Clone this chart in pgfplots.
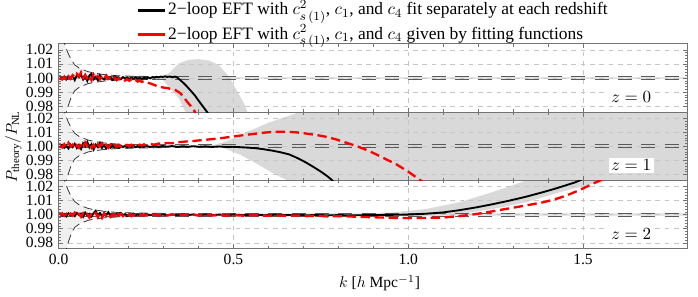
\documentclass[border=0pt]{standalone}
\usepackage{fontspec}
\setmainfont{Liberation Serif}
\usepackage{pgfplots}
\pgfplotsset{compat=1.18}
\usepgfplotslibrary{groupplots}

\newcommand{\funnelbg}{%
  \addplot[draw=none, fill=gray!12, on layer=axis background] coordinates {
    (0,1.0243) (0.017,1.0243) (0.021,1.0215) (0.027,1.0176) (0.036,1.0129)
    (0.046,1.0093) (0.06,1.0068) (0.084,1.0045) (0.1,1.0036) (0.13,1.0024) (0.17,1.0016) (0.22,1.0012) (0.3,1.001)
    (0.3,0.999) (0.22,0.9988) (0.17,0.9985) (0.13,0.9978) (0.1,0.9968) (0.084,0.996) (0.06,0.9936) (0.046,0.991)
    (0.036,0.9865) (0.027,0.980) (0.022,0.9757) (0,0.9757)} -- cycle;
  \addplot[draw=none, fill=gray!20, on layer=axis background] coordinates {(0,0.999) (1.8,0.999) (1.8,1.001) (0,1.001)} -- cycle;
}
\newcommand{\funnellines}{%
  \addplot[black!80, line width=0.5pt, dash pattern=on 6pt off 3pt] coordinates {
    (0.012,1.040) (0.015,1.030) (0.017,1.0243) (0.021,1.0215) (0.027,1.0176) (0.036,1.0129)
    (0.046,1.0093) (0.06,1.0068) (0.084,1.0045) (0.1,1.0036) (0.13,1.0024) (0.17,1.0016) (0.22,1.0012) (0.3,1.001)};
  \addplot[black!80, line width=0.5pt, dash pattern=on 6pt off 3pt] coordinates {
    (0.012,0.960) (0.017,0.970) (0.022,0.9757) (0.027,0.980) (0.036,0.9865) (0.046,0.991) (0.06,0.9936)
    (0.084,0.996) (0.1,0.9968) (0.13,0.9978) (0.17,0.9985) (0.22,0.9988) (0.3,0.999)};
  \addplot[black!65, line width=0.6pt, dash pattern=on 9pt off 6pt] coordinates {(0,0.999) (1.8,0.999)};
  \addplot[black!65, line width=0.6pt, dash pattern=on 9pt off 6pt] coordinates {(0,1.001) (1.8,1.001)};
}

\begin{document}
\begin{tikzpicture}
\begin{groupplot}[
  group style={group size=1 by 3, vertical sep=0pt, xticklabels at=edge bottom},
  set layers,
  width=405pt, height=44pt, scale only axis,
  xmin=0, xmax=1.8, ymin=0.9757, ymax=1.0243,
  xtick={0,0.5,1,1.5}, minor x tick num=4,
  ytick={0.98,0.99,1.00,1.01,1.02}, minor y tick num=4,
  grid=major, major grid style={gray!45, dashed, line width=0.4pt},
  axis line style={black!55, line width=0.6pt},
  tick style={black!55, line width=0.4pt},
  major tick length=3pt, minor tick length=1.8pt, tick align=inside,
  /pgf/number format/assume math mode=true,
  tick label style={font=\fontsize{10}{12}\selectfont},
  xticklabel style={/pgf/number format/.cd, fixed, fixed zerofill, precision=1},
  yticklabel style={/pgf/number format/.cd, fixed, fixed zerofill, precision=2},
  black curve/.style={black, line width=1.2pt},
  red curve/.style={red, line width=1.5pt, dash pattern=on 6pt off 3pt},
]
%---------------- z = 0
\nextgroupplot[
  legend style={draw=none, fill=none, at={(0.5,1.0)}, anchor=south, yshift=-1pt, inner sep=0pt,
    font=\fontsize{11.2}{13}\selectfont, cells={anchor=west}, row sep=2.2pt,
    nodes={inner sep=1.2pt, text height=8.4pt, text depth=2.6pt}},
]
\addlegendimage{black, line width=1.8pt}
\addlegendentry{2−loop EFT with $c^2_{s\,(1)}$, $c_1$, and $c_4$ fit separately at each redshift}
\addlegendimage{red, line width=1.8pt}
\addlegendentry{2−loop EFT with $c^2_{s\,(1)}$, $c_1$, and $c_4$ given by fitting functions}
\funnelbg
\addplot[draw=none, fill=gray!30, on layer=axis background] coordinates {
  (0.29,1.0) (0.315,1.0034) (0.344,1.0105) (0.372,1.0129) (0.40,1.0134) (0.43,1.0124) (0.458,1.0093)
  (0.487,1.001) (0.51,0.991) (0.53,0.982) (0.54,0.9757) (0.363,0.9757)
  (0.344,0.9855) (0.315,0.9938) (0.30,0.998)} -- cycle;
\funnellines
\addplot[black curve] coordinates {
(0.004,1.0005) (0.010,0.9995) (0.016,1.0010) (0.022,0.9990) (0.028,1.0008) (0.034,1.0002) (0.040,1.0015)
(0.046,0.9985) (0.052,1.0020) (0.058,1.0005) (0.064,1.0025) (0.070,0.9990) (0.076,1.0012) (0.082,0.9980)
(0.088,1.0018) (0.094,1.0030) (0.100,0.9992) (0.106,1.0008) (0.112,0.9985) (0.118,1.0020) (0.124,1.0000)
(0.130,0.9990) (0.136,1.0012) (0.142,0.9995) (0.148,1.0005) (0.154,0.9988) (0.160,1.0010) (0.166,0.9998)
(0.172,1.0003) (0.178,0.9992) (0.184,1.0006) (0.190,0.9996) (0.196,1.0004) (0.202,0.9993) (0.208,1.0002)
(0.214,0.9995) (0.220,1.0004) (0.226,0.9996) (0.232,1.0001) (0.238,0.9994) (0.244,1.0003) (0.250,0.9997)
(0.256,1.0004) (0.262,0.9998) (0.268,1.0006) (0.274,1.0002) (0.280,1.0008) (0.286,1.0004) (0.292,1.0010)
(0.298,1.0007) (0.304,1.0012) (0.310,1.0008) (0.318,1.0010) (0.326,1.0006) (0.333,1.0010) (0.340,1.0002)
(0.353,0.9974) (0.365,0.9945) (0.377,0.9912) (0.390,0.9875) (0.400,0.9840) (0.412,0.9800) (0.425,0.9757) (0.435,0.9720)};
\addplot[red curve] coordinates {
(0.004,1.0000) (0.010,0.9990) (0.016,1.0008) (0.022,0.9985) (0.028,1.0012) (0.034,0.9995) (0.040,1.0020)
(0.046,1.0005) (0.052,1.0030) (0.058,1.0010) (0.064,1.0040) (0.070,1.0000) (0.076,1.0022) (0.082,0.9990)
(0.088,1.0010) (0.094,0.9985) (0.100,1.0025) (0.106,1.0000) (0.112,1.0015) (0.118,0.9990) (0.124,1.0008)
(0.130,0.9992) (0.136,1.0018) (0.142,0.9995) (0.148,1.0008) (0.154,0.9990) (0.160,1.0002) (0.166,0.9985)
(0.172,0.9998) (0.178,0.9988) (0.184,0.9996) (0.190,0.9982) (0.196,0.9992) (0.202,0.9980) (0.208,0.9990)
(0.214,0.9978) (0.220,0.9986) (0.226,0.9975) (0.232,0.9982) (0.238,0.9972) (0.244,0.9978) (0.250,0.9968)
(0.258,0.9964) (0.266,0.9958) (0.274,0.9950) (0.282,0.9942) (0.290,0.9936) (0.300,0.9932) (0.312,0.9928)
(0.322,0.9920) (0.334,0.9914) (0.342,0.9902) (0.349,0.9890) (0.358,0.9862) (0.368,0.9830) (0.378,0.9800)
(0.387,0.9770) (0.392,0.9752)};
\node[fill=white, inner sep=1.5pt, font=\fontsize{10.5}{12}\selectfont] at (rel axis cs:0.91,0.22) {$z = 0$};
%---------------- z = 1
\nextgroupplot[ylabel={$P_{\mathrm{theory}}/P_{\mathrm{NL}}$},
  ylabel style={at={(axis description cs:-0.072,0.5)}, anchor=center, font=\fontsize{10}{12}\selectfont}]
\funnelbg
\addplot[draw=none, fill=gray!30, on layer=axis background] coordinates {
  (0.43,1.0) (0.449,1.0015) (0.473,1.0030) (0.51,1.0068) (0.544,1.0108) (0.60,1.0168) (0.65,1.021) (0.688,1.0243)
  (1.8,1.0243) (1.8,0.9757) (0.655,0.9757) (0.62,0.980) (0.578,0.986) (0.52,0.994) (0.47,0.999)} -- cycle;
\funnellines
\addplot[black curve] coordinates {
(0.004,0.9995) (0.010,1.0010) (0.016,0.9990) (0.022,1.0005) (0.028,0.9985) (0.034,1.0012) (0.040,0.9995)
(0.046,1.0018) (0.052,0.9988) (0.058,1.0010) (0.064,0.9982) (0.070,1.0022) (0.076,1.0000) (0.082,1.0030)
(0.088,0.9992) (0.094,1.0015) (0.100,0.9978) (0.106,1.0012) (0.112,0.9995) (0.118,1.0025) (0.124,0.9990)
(0.130,1.0008) (0.136,0.9985) (0.142,1.0004) (0.148,0.9990) (0.154,1.0006) (0.160,0.9993) (0.166,1.0002)
(0.172,0.9990) (0.178,1.0005) (0.184,0.9995) (0.190,1.0003) (0.196,0.9992) (0.202,1.0002) (0.208,0.9996)
(0.214,1.0004) (0.220,0.9995) (0.226,1.0002) (0.232,0.9994) (0.238,1.0001) (0.244,0.9996) (0.250,1.0003)
(0.262,0.9995) (0.274,1.0002) (0.286,0.9996) (0.298,1.0003) (0.310,0.9997) (0.325,1.0002) (0.340,0.9996)
(0.355,1.0001) (0.370,0.9997) (0.385,1.0001) (0.400,0.9997) (0.420,1.0000) (0.440,0.9996) (0.460,0.9999)
(0.480,0.9996) (0.500,0.9997) (0.520,0.9994) (0.540,0.9991) (0.563,0.9987) (0.585,0.9980) (0.610,0.9970)
(0.635,0.9958) (0.659,0.9943) (0.683,0.9917) (0.707,0.9886) (0.730,0.9852) (0.754,0.9814) (0.770,0.9785)
(0.782,0.9760) (0.790,0.9740)};
\addplot[red curve] coordinates {
(0.004,1.0005) (0.010,0.9992) (0.016,1.0015) (0.022,0.9995) (0.028,1.0025) (0.034,1.0000) (0.040,1.0012)
(0.046,0.9985) (0.052,1.0008) (0.058,0.9990) (0.064,1.0018) (0.070,0.9995) (0.076,1.0028) (0.082,1.0005)
(0.088,1.0020) (0.094,0.9990) (0.100,1.0010) (0.106,0.9985) (0.112,1.0015) (0.118,0.9998) (0.124,1.0022)
(0.130,0.9995) (0.136,1.0010) (0.142,0.9990) (0.148,1.0012) (0.154,0.9995) (0.160,1.0008) (0.166,0.9996)
(0.172,1.0010) (0.178,0.9998) (0.184,1.0008) (0.190,1.0000) (0.196,1.0010) (0.202,1.0002) (0.208,1.0012)
(0.214,1.0004) (0.220,1.0010) (0.226,1.0004) (0.232,1.0012) (0.238,1.0006) (0.244,1.0014) (0.250,1.0008)
(0.262,1.0016) (0.274,1.0012) (0.286,1.0020) (0.298,1.0018) (0.310,1.0024) (0.325,1.0022) (0.340,1.0030)
(0.355,1.0032) (0.370,1.0036) (0.385,1.0038) (0.400,1.0042) (0.425,1.0048) (0.449,1.0054) (0.470,1.0060)
(0.496,1.0069) (0.520,1.0077) (0.540,1.0083) (0.563,1.0090) (0.590,1.0098) (0.621,1.0104) (0.650,1.0104)
(0.678,1.0100) (0.705,1.0092) (0.735,1.0082) (0.765,1.0068) (0.793,1.0050) (0.820,1.0028) (0.850,1.0004)
(0.880,0.9975) (0.907,0.9945) (0.935,0.9910) (0.965,0.9874) (1.000,0.9820) (1.030,0.9767) (1.040,0.9750)};
\node[fill=white, inner sep=1.5pt, font=\fontsize{10.5}{12}\selectfont] at (rel axis cs:0.91,0.22) {$z = 1$};
%---------------- z = 2
\nextgroupplot[xlabel={$k$ [$h$ Mpc$^{-1}$]},
  xlabel style={at={(axis description cs:0.51,-0.5)}, anchor=center, font=\fontsize{10}{12}\selectfont}]
\funnelbg
\addplot[draw=none, fill=gray!30, on layer=axis background] coordinates {
  (0.80,1.0) (0.85,1.0005) (0.955,1.0016) (1.05,1.0040) (1.146,1.0088) (1.24,1.0160) (1.31,1.0220) (1.337,1.0243)
  (1.576,1.0243) (1.528,1.0220) (1.433,1.0160) (1.337,1.0088) (1.24,1.0040) (1.146,1.0005)
  (1.05,0.9988) (0.95,0.9995) (0.85,0.9998)} -- cycle;
\funnellines
\addplot[black curve] coordinates {
(0.004,1.0008) (0.010,0.9994) (0.016,1.0004) (0.022,0.9988) (0.028,1.0010) (0.034,0.9996) (0.040,1.0006)
(0.046,0.9990) (0.052,1.0012) (0.058,0.9998) (0.064,1.0008) (0.070,0.9985) (0.076,1.0015) (0.082,0.9995)
(0.088,1.0006) (0.094,0.9988) (0.100,1.0010) (0.106,1.0028) (0.112,0.9995) (0.118,1.0012) (0.124,0.9990)
(0.130,1.0008) (0.136,0.9996) (0.142,1.0018) (0.148,0.9992) (0.154,1.0006) (0.160,0.9995) (0.166,1.0004)
(0.172,0.9994) (0.178,1.0012) (0.184,0.9996) (0.190,1.0004) (0.196,0.9993) (0.202,1.0003) (0.208,0.9995)
(0.214,1.0006) (0.220,0.9996) (0.226,1.0002) (0.232,0.9994) (0.238,1.0003) (0.244,0.9997) (0.250,1.0004)
(0.262,0.9996) (0.274,1.0003) (0.286,0.9995) (0.298,1.0002) (0.310,0.9996) (0.325,1.0003) (0.340,0.9996)
(0.355,1.0002) (0.370,0.9997) (0.385,1.0002) (0.400,0.9996) (0.420,1.0001) (0.440,0.9997) (0.460,1.0001)
(0.480,0.9996) (0.500,1.0001) (0.530,0.9997) (0.560,1.0000) (0.590,0.9996) (0.620,1.0000) (0.650,0.9997)
(0.680,0.9999) (0.710,0.9996) (0.740,0.9998) (0.770,0.9996) (0.800,0.9997) (0.850,0.9996) (0.900,0.9998)
(0.950,0.9999) (1.000,1.0001) (1.050,1.0007) (1.098,1.0016) (1.146,1.0032) (1.194,1.0052) (1.240,1.0074)
(1.289,1.0100) (1.337,1.0128) (1.385,1.0160) (1.420,1.0185) (1.452,1.0210) (1.475,1.0228) (1.490,1.0243) (1.500,1.0255)};
\addplot[red curve] coordinates {
(0.004,0.9996) (0.010,1.0010) (0.016,0.9992) (0.022,1.0006) (0.028,0.9988) (0.034,1.0008) (0.040,0.9994)
(0.046,1.0014) (0.052,0.9990) (0.058,1.0006) (0.064,0.9985) (0.070,1.0010) (0.076,0.9992) (0.082,1.0004)
(0.088,0.9980) (0.094,1.0008) (0.100,0.9994) (0.106,1.0012) (0.112,0.9982) (0.118,1.0006) (0.124,0.9978)
(0.130,1.0010) (0.136,0.9990) (0.142,1.0004) (0.148,0.9985) (0.154,1.0002) (0.160,0.9992) (0.166,1.0022)
(0.172,0.9995) (0.178,1.0006) (0.184,0.9990) (0.190,1.0004) (0.196,0.9992) (0.202,1.0002) (0.208,0.9990)
(0.214,1.0000) (0.220,0.9993) (0.226,1.0003) (0.232,0.9994) (0.238,1.0001) (0.244,0.9992) (0.250,1.0000)
(0.262,0.9993) (0.274,1.0001) (0.286,0.9994) (0.298,1.0000) (0.310,0.9994) (0.325,1.0001) (0.340,0.9994)
(0.355,1.0000) (0.370,0.9995) (0.385,1.0000) (0.400,0.9994) (0.420,0.9999) (0.440,0.9994) (0.460,0.9998)
(0.480,0.9993) (0.500,0.9997) (0.530,0.9993) (0.560,0.9997) (0.590,0.9992) (0.620,0.9996) (0.650,0.9992)
(0.680,0.9995) (0.710,0.9990) (0.740,0.9993) (0.770,0.9988) (0.800,0.9990) (0.850,0.9986) (0.900,0.9982)
(0.950,0.9978) (1.000,0.9976) (1.050,0.9977) (1.098,0.9980) (1.146,0.9990) (1.194,1.0005) (1.240,1.0024)
(1.289,1.0045) (1.337,1.0066) (1.385,1.0088) (1.420,1.0110) (1.452,1.0136) (1.490,1.0175) (1.528,1.0220)
(1.550,1.0245) (1.560,1.0260)};
\node[fill=white, inner sep=1.5pt, font=\fontsize{10.5}{12}\selectfont] at (rel axis cs:0.91,0.22) {$z = 2$};
\end{groupplot}
\path (group c1r1.north east) ++(6.5pt,0);
\end{tikzpicture}
\end{document}
